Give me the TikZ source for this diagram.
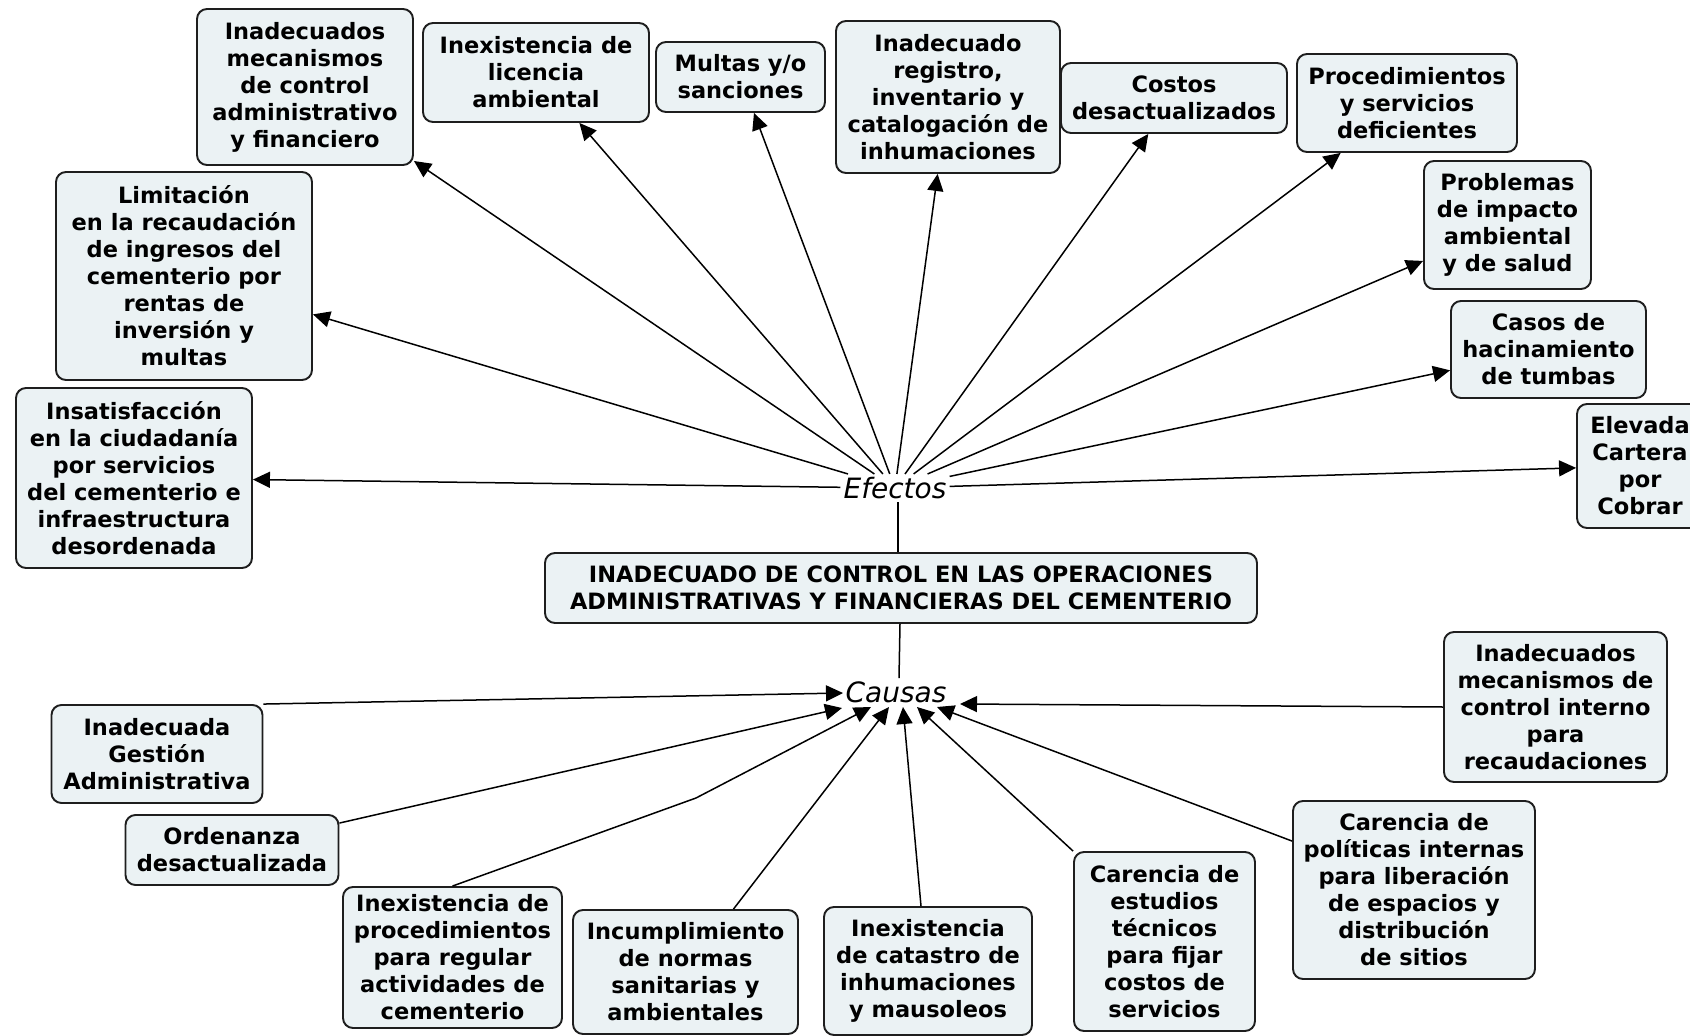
\documentclass[tikz,border=0pt]{standalone}
\usepackage{fontspec}
\setmainfont{DejaVu Sans}
\usetikzlibrary{arrows.meta}
\definecolor{boxfill}{HTML}{EBF2F4}
\definecolor{boxline}{HTML}{1E1E1E}
\begin{document}
\begin{tikzpicture}[x=1pt,y=-1pt,
  box/.style={draw=boxline, line width=1.9pt, fill=boxfill, rounded corners=10pt,
    align=center, inner sep=0pt, font=\fontsize{22.5}{27}\selectfont\bfseries},
  lab/.style={font=\fontsize{28}{32}\selectfont\itshape, inner sep=3pt},
  arr/.style={line width=1.5pt, -{Triangle[length=17pt,width=16pt]}},
  ln/.style={line width=1.5pt}]
\useasboundingbox (0,0) rectangle (1690,1036);
\clip (0,0) rectangle (1690,1036);
\fill[white] (0,0) rectangle (1690,1036);

% central
\node[box, minimum width=712pt, minimum height=70pt] (main) at (901,588)
  {INADECUADO DE CONTROL EN LAS OPERACIONES\\ADMINISTRATIVAS Y FINANCIERAS DEL CEMENTERIO};
\node[lab] (efectos) at (895,488) {Efectos};
\node[lab] (causas) at (896,692) {Causas};

% effects
\node[box, minimum width=216pt, minimum height=156pt] (e1) at (305,87)
  {Inadecuados\\mecanismos\\de control\\administrativo\\y financiero};
\node[box, minimum width=226pt, minimum height=99pt] (e2) at (536,72.5)
  {Inexistencia de\\licencia\\ambiental};
\node[box, minimum width=169pt, minimum height=70pt] (e3) at (740.5,77)
  {Multas y/o\\sanciones};
\node[box, minimum width=224pt, minimum height=152pt] (e4) at (948,97)
  {Inadecuado\\registro,\\inventario y\\catalogación de\\inhumaciones};
\node[box, minimum width=226pt, minimum height=70pt] (e5) at (1174,98)
  {Costos\\desactualizados};
\node[box, minimum width=220pt, minimum height=98pt] (e6) at (1407,103)
  {Procedimientos\\y servicios\\deficientes};
\node[box, minimum width=167pt, minimum height=128pt] (e7) at (1507.5,225)
  {Problemas\\de impacto\\ambiental\\y de salud};
\node[box, minimum width=195pt, minimum height=97pt] (e8) at (1548.5,349.5)
  {Casos de\\hacinamiento\\de tumbas};
\node[box, minimum width=126pt, minimum height=124pt] (e9) at (1640,466)
  {Elevada\\Cartera\\por\\Cobrar};
\node[box, minimum width=256pt, minimum height=208pt] (e10) at (184,276)
  {Limitación\\en la recaudación\\de ingresos del\\cementerio por\\rentas de\\inversión y\\multas};
\node[box, minimum width=236pt, minimum height=180pt] (e11) at (134,478)
  {Insatisfacción\\en la ciudadanía\\por servicios\\del cementerio e\\infraestructura\\desordenada};

% causes
\node[box, minimum width=211pt, minimum height=98pt] (c1) at (157,754)
  {Inadecuada\\Gestión\\Administrativa};
\node[box, minimum width=213pt, minimum height=70pt] (c2) at (232,850)
  {Ordenanza\\desactualizada};
\node[box, minimum width=219pt, minimum height=141pt] (c3) at (452.5,957.5)
  {Inexistencia de\\procedimientos\\para regular\\actividades de\\cementerio};
\node[box, minimum width=225pt, minimum height=124pt] (c4) at (685.5,972)
  {Incumplimiento\\de normas\\sanitarias y\\ambientales};
\node[box, minimum width=208pt, minimum height=128pt] (c5) at (928,971)
  {Inexistencia\\de catastro de\\inhumaciones\\y mausoleos};
\node[box, minimum width=181pt, minimum height=179pt] (c6) at (1164.5,941.5)
  {Carencia de\\estudios\\técnicos\\para fijar\\costos de\\servicios};
\node[box, minimum width=242pt, minimum height=178pt] (c7) at (1414,890)
  {Carencia de\\políticas internas\\para liberación\\de espacios y\\distribución\\de sitios};
\node[box, minimum width=223pt, minimum height=150pt] (c8) at (1555.5,707)
  {Inadecuados\\mecanismos de\\control interno\\para\\recaudaciones};

% spine
\draw[ln] ([xshift=3pt]efectos.south) -- ([xshift=-3pt]main.north);
\draw[ln] ([xshift=-1pt]main.south) -- ([xshift=3pt]causas.north);

% effect arrows
\foreach \t in {e1,e2,e3,e4,e5,e6,e7,e8,e9,e10,e11}
  \draw[arr] (efectos) -- (\t);

% cause arrow tips
\coordinate (t1) at (843,693);
\coordinate (t2) at (842,708);
\coordinate (t3) at (871,707);
\coordinate (t4) at (889,707);
\coordinate (t5) at (903,707);
\coordinate (t6) at (917,707);
\coordinate (t7) at (937,707);
\coordinate (t8) at (960,704);
\coordinate (b3) at (696,798);

\draw[arr] (c1.north east) -- (t1);
\draw[arr] ([yshift=-9pt]c2.north east) -- (t2);
\draw[arr] (c3.north) -- (b3) -- (t3);
\draw[arr] ([xshift=48pt]c4.north) -- (t4);
\draw[arr] ([xshift=-7pt]c5.north) -- (t5);
\draw[arr] (c6.north west) -- (t6);
\draw[arr] ([yshift=-41pt]c7.north west) -- (t7);
\draw[arr] (c8.west) -- (t8);
\end{tikzpicture}
\end{document}
